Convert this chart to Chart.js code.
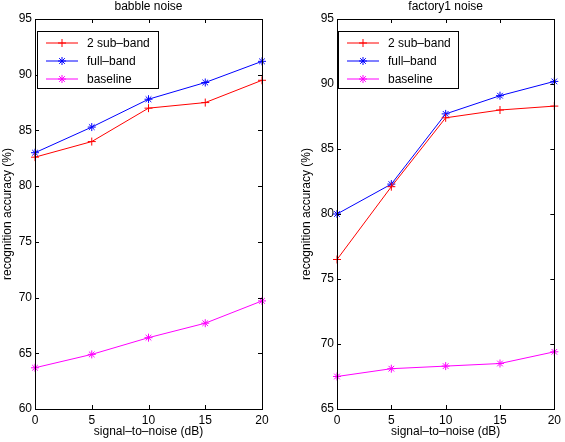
<!DOCTYPE html>
<html>
<head>
<meta charset="utf-8">
<script src="https://cdn.jsdelivr.net/npm/chart.js@4.4.0/dist/chart.umd.min.js"></script>
<style>
  html, body { margin: 0; padding: 0; background: #fff; }
  body { width: 565px; height: 442px; position: relative; overflow: hidden; }
  canvas { position: absolute; top: 0; }
  #babbleChart { left: 0; }
  #factoryChart { left: 282px; }
</style>
</head>
<body>
<canvas id="babbleChart" width="282" height="442"></canvas>
<canvas id="factoryChart" width="283" height="442"></canvas>
<script>
// signal-to-noise values (dB)
const snr = [0, 5, 10, 15, 20];
const seriesNames = ['2 sub–band', 'full–band', 'baseline'];

// babble noise
const babbleSubBand = [82.6, 84.0, 87.0, 87.5, 89.5];
const babbleFullBand = [83.0, 85.3, 87.8, 89.3, 91.2];
const babbleBaseline = [63.7, 64.9, 66.4, 67.7, 69.7];

// factory1 noise
const factorySubBand = [76.5, 82.1, 87.4, 88.0, 88.3];
const factoryFullBand = [80.0, 82.3, 87.7, 89.1, 90.2];
const factoryBaseline = [67.5, 68.1, 68.3, 68.5, 69.4];

const colors = ['#ff0000', '#0000ff', '#ff00ff'];
const markers = ['cross', 'star', 'star'];
const FONT = "'Liberation Sans', Arial, Helvetica, sans-serif";
const FS = 12;

function toPoints(values) {
    return snr.map((x, i) => ({ x: x, y: values[i] }));
}

// matlab style box, inward ticks, title and legend
const matlabBox = {
    id: 'matlabBox',
    afterDatasetsDraw(chart, args, opts) {
        const c = chart.ctx;
        const a = chart.chartArea;
        c.save();
        c.strokeStyle = '#000';
        c.lineWidth = 1;
        c.strokeRect(Math.round(a.left) + 0.5, Math.round(a.top) + 0.5,
            Math.round(a.right - a.left), Math.round(a.bottom - a.top));
        const t = 4;
        c.beginPath();
        chart.scales.x.ticks.forEach(tk => {
            const px = Math.round(chart.scales.x.getPixelForValue(tk.value)) + 0.5;
            c.moveTo(px, a.bottom); c.lineTo(px, a.bottom - t);
            c.moveTo(px, a.top); c.lineTo(px, a.top + t);
        });
        chart.scales.y.ticks.forEach(tk => {
            const py = Math.round(chart.scales.y.getPixelForValue(tk.value)) + 0.5;
            c.moveTo(a.left, py); c.lineTo(a.left + t, py);
            c.moveTo(a.right, py); c.lineTo(a.right - t, py);
        });
        c.stroke();

        // title
        c.fillStyle = '#000';
        c.font = FS + 'px ' + FONT;
        c.textAlign = 'center';
        c.textBaseline = 'middle';
        c.fillText(opts.title, (a.left + a.right) / 2, 7);

        // legend
        const lx = a.left + opts.legendX;
        const ly = a.top + 12;
        const lw = opts.legendW, lh = 57;
        c.fillStyle = '#fff';
        c.fillRect(lx, ly, lw, lh);
        c.strokeStyle = '#000';
        c.strokeRect(Math.round(lx) + 0.5, Math.round(ly) + 0.5, lw, lh);
        seriesNames.forEach((name, i) => {
            const y = ly + 12 + i * 18;
            const x0 = lx + 9, x1 = lx + 9 + opts.lineLen;
            c.strokeStyle = colors[i];
            c.beginPath();
            c.moveTo(x0, y); c.lineTo(x1, y);
            c.stroke();
            Chart.helpers.drawPoint(c, { pointStyle: markers[i], radius: 4, borderWidth: 1 }, (x0 + x1) / 2, y);
            c.fillStyle = '#000';
            c.textAlign = 'left';
            c.fillText(name, x1 + 9, y + 1);
        });
        c.restore();
    }
};

function makeChart(id, series, yMin, opts) {
    const ctx = document.getElementById(id).getContext('2d');
    return new Chart(ctx, {
        type: 'line',
        data: {
            datasets: series.map((vals, i) => ({
                label: seriesNames[i],
                data: toPoints(vals),
                borderColor: colors[i],
                backgroundColor: colors[i],
                borderWidth: 1,
                pointStyle: markers[i],
                pointRadius: 4,
                pointBorderWidth: 1,
                pointBorderColor: colors[i],
                tension: 0,
                clip: false
            }))
        },
        options: {
            responsive: false,
            animation: false,
            layout: { padding: { top: 19, right: opts.padRight, left: 0, bottom: 0 } },
            plugins: {
                legend: { display: false },
                tooltip: { enabled: false },
                matlabBox: opts
            },
            scales: {
                x: {
                    type: 'linear',
                    min: 0, max: 20,
                    grid: { display: false, drawTicks: false },
                    border: { display: false },
                    ticks: { stepSize: 5, padding: 4, color: '#000', font: { family: FONT, size: FS }, maxRotation: 0 },
                    title: { display: true, text: 'signal–to–noise (dB)', color: '#000', font: { family: FONT, size: FS }, padding: { top: 0, bottom: 3 } },
                    afterFit(scale) { scale.height = 33; }
                },
                y: {
                    min: yMin, max: 95,
                    grid: { display: false, drawTicks: false },
                    border: { display: false },
                    ticks: { stepSize: 5, padding: 3, color: '#000', font: { family: FONT, size: FS } },
                    title: { display: true, text: 'recognition accuracy (%)', color: '#000', font: { family: FONT, size: FS }, padding: { top: opts.yTitlePad, bottom: 0 } },
                    afterFit(scale) { scale.width = opts.yWidth; }
                }
            }
        },
        plugins: [matlabBox]
    });
}

makeChart('babbleChart', [babbleSubBand, babbleFullBand, babbleBaseline], 60,
    { title: 'babble noise', yWidth: 35, padRight: 20, yTitlePad: 0, legendX: 2, legendW: 121, lineLen: 32 });
makeChart('factoryChart', [factorySubBand, factoryFullBand, factoryBaseline], 65,
    { title: 'factory1 noise', yWidth: 55, padRight: 6, yTitlePad: 17, legendX: 1, legendW: 120, lineLen: 32 });
</script>
</body>
</html>
